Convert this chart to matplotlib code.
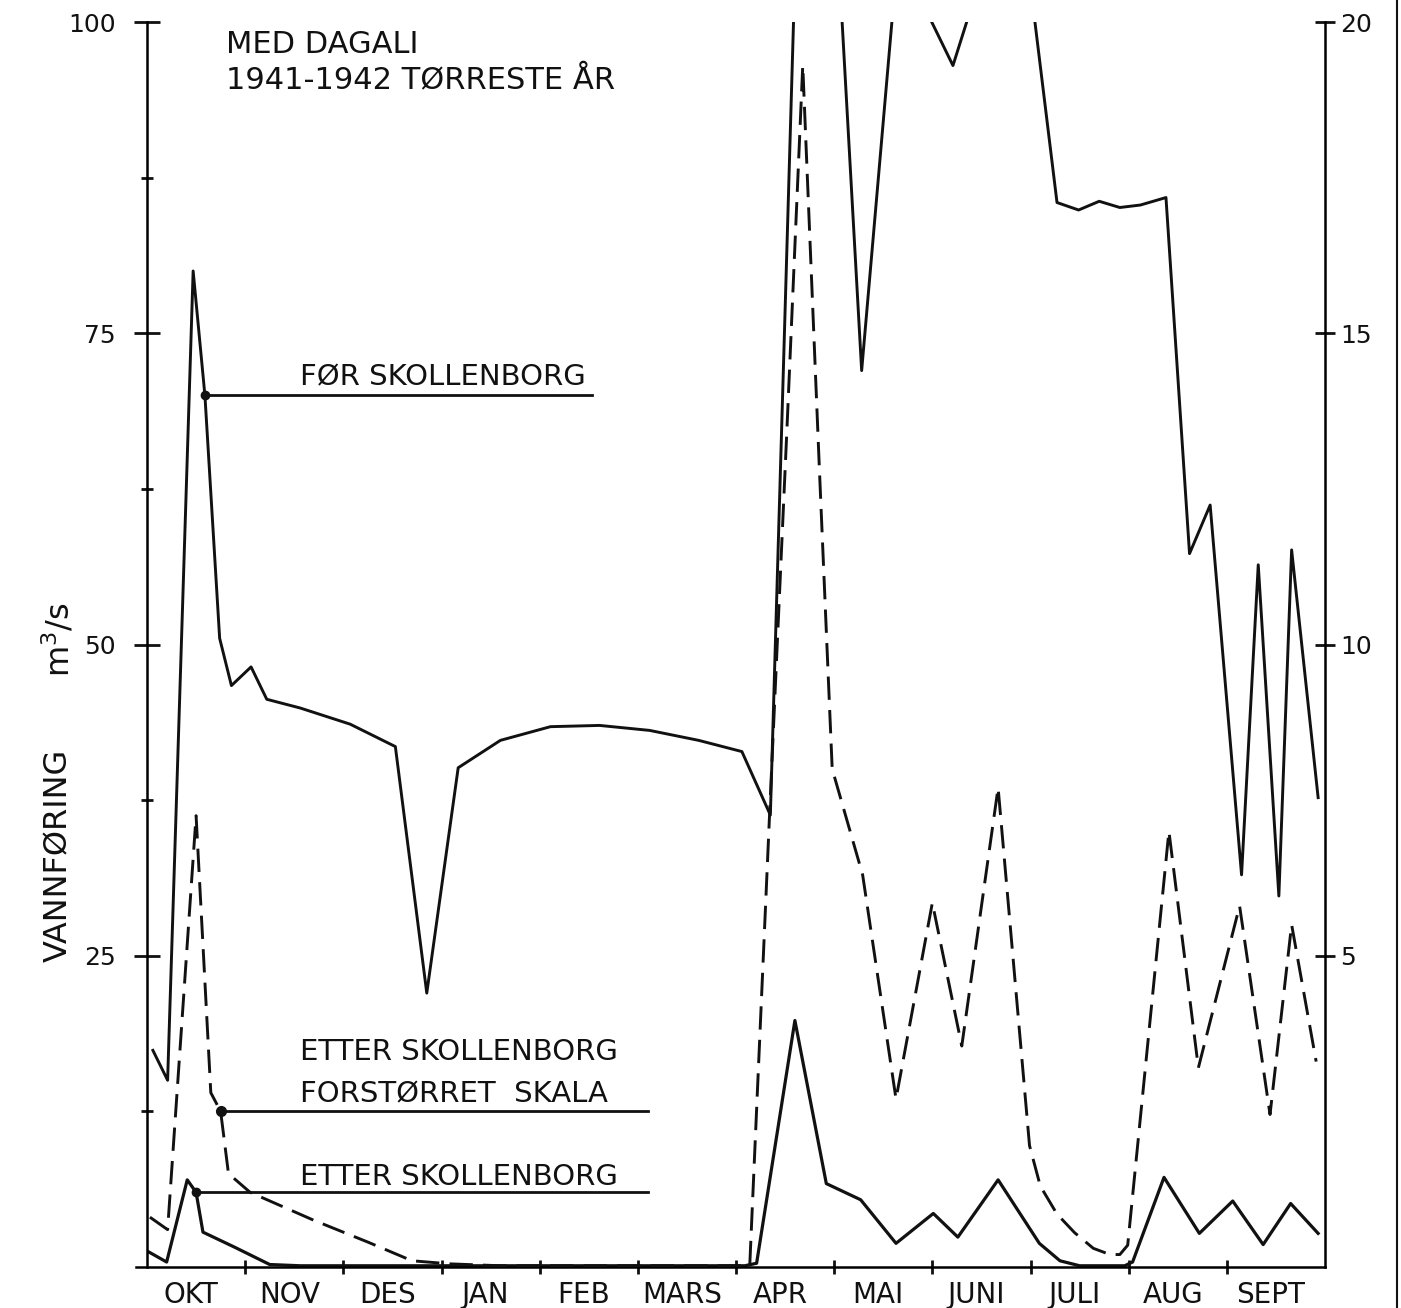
import numpy as np
import matplotlib.pyplot as plt
from matplotlib.lines import Line2D

plt.rcParams['font.family'] = ['DejaVu Sans']

maaneder = ['OKT', 'NOV', 'DES', 'JAN', 'FEB', 'MARS', 'APR', 'MAI', 'JUNI', 'JULI', 'AUG', 'SEPT']

# x = maaneder etter 1. oktober 1941
# FØR SKOLLENBORG, venstre skala (m3/s)
for_x = [0.06, 0.21, 0.47, 0.59, 0.74, 0.86, 1.06, 1.22, 1.56, 2.07, 2.53, 2.85, 3.17,
         3.60, 4.11, 4.61, 5.12, 5.62, 6.06, 6.35, 6.66, 7.01, 7.28, 7.72, 7.87, 8.21,
         8.43, 8.69, 8.89, 9.27, 9.49, 9.70, 9.91, 10.12, 10.38, 10.62, 10.83, 11.15,
         11.32, 11.53, 11.66, 11.93]
for_y = [17.4, 15.0, 80.0, 70.0, 50.5, 46.7, 48.2, 45.6, 44.9, 43.6, 41.8, 22.0, 40.1,
         42.3, 43.4, 43.5, 43.1, 42.3, 41.4, 36.3, 120.0, 110.0, 72.0, 112.0, 102.0, 96.5,
         102.0, 115.0, 110.0, 85.5, 84.9, 85.6, 85.1, 85.3, 85.9, 57.3, 61.2, 31.5,
         56.4, 29.8, 57.6, 37.7]

# ETTER SKOLLENBORG, venstre skala
etter_x = [0.02, 0.20, 0.41, 0.50, 0.57, 0.89, 1.25, 1.56, 2.58, 3.60, 4.61, 5.63, 6.09,
           6.21, 6.60, 6.92, 7.27, 7.63, 8.01, 8.26, 8.67, 9.09, 9.30, 9.50, 9.96, 10.04,
           10.36, 10.72, 11.06, 11.37, 11.65, 11.93]
etter_y = [1.2, 0.4, 7.0, 6.0, 2.8, 1.6, 0.2, 0.1, 0.1, 0.1, 0.1, 0.1, 0.1,
           0.3, 19.8, 6.7, 5.4, 1.9, 4.3, 2.4, 7.0, 1.9, 0.5, 0.1, 0.1, 0.4,
           7.2, 2.7, 5.3, 1.8, 5.1, 2.7]

# ETTER SKOLLENBORG, forstørret skala (høyre akse 0-20)
forst_x = [0.03, 0.21, 0.50, 0.65, 0.75, 0.83, 1.05, 1.70, 2.25, 2.70, 3.09, 3.60, 4.61,
           5.63, 6.14, 6.34, 6.52, 6.68, 6.85, 6.98, 7.29, 7.63, 8.00, 8.30, 8.67, 8.99,
           9.10, 9.27, 9.45, 9.64, 9.81, 9.91, 9.99, 10.41, 10.71, 11.13, 11.44, 11.66, 11.91]
forst_y = [0.8, 0.6, 7.25, 2.8, 2.5, 1.5, 1.2, 0.75, 0.4, 0.1, 0.05, 0.02, 0.02,
           0.02, 0.02, 7.2, 13.5, 19.3, 12.8, 8.0, 6.3, 2.7, 5.85, 3.55, 7.7, 1.95,
           1.3, 0.85, 0.55, 0.3, 0.2, 0.2, 0.35, 7.0, 3.2, 5.8, 2.45, 5.5, 3.3]

svart = '#111111'

fig = plt.figure(figsize=(14.01, 13.08), dpi=100)
ax = fig.add_axes([147/1401, 41/1308, 1178/1401, 1245/1308])
ax2 = ax.twinx()

ax.set_xlim(0, 12)
ax.set_ylim(0, 100)
ax2.set_ylim(0, 20)

ax.plot(for_x, for_y, color=svart, lw=2.1)
ax.plot(etter_x, etter_y, color=svart, lw=2.3)
ax2.plot(forst_x, forst_y, color=svart, lw=2.1, linestyle=(0, (8, 3.5)))

# merkelapper med strek og prikk
ax.plot([for_x[3], 4.53], [for_y[3], for_y[3]], color=svart, lw=2)
ax.plot(for_x[3], for_y[3], 'o', color=svart, ms=6)
ax.text(1.56, 70.8, 'FØR SKOLLENBORG', fontsize=21, va='baseline', color=svart)

ax.plot([forst_x[4], 5.10], [forst_y[4] * 5, forst_y[4] * 5], color=svart, lw=2)
ax.plot(forst_x[4], forst_y[4] * 5, 'o', color=svart, ms=7)
ax.text(1.56, 16.6, 'ETTER SKOLLENBORG', fontsize=21, va='baseline', color=svart)
ax.text(1.56, 13.2, 'FORSTØRRET  SKALA', fontsize=21, va='baseline', color=svart)

ax.plot([etter_x[3], 5.10], [etter_y[3], etter_y[3]], color=svart, lw=2)
ax.plot(etter_x[3], etter_y[3], 'o', color=svart, ms=6)
ax.text(1.56, 6.6, 'ETTER SKOLLENBORG', fontsize=21, va='baseline', color=svart)

ax.text(0.80, 97.5, 'MED DAGALI', fontsize=22, va='baseline', color=svart)
ax.text(0.80, 94.7, '1941-1942 TØRRESTE ÅR', fontsize=22, va='baseline', color=svart)

# akser
for s in ['top', 'right']:
    ax.spines[s].set_visible(False)
for s in ['top', 'left', 'bottom']:
    ax2.spines[s].set_visible(False)
for s in ['left', 'bottom']:
    ax.spines[s].set_linewidth(1.8)
ax.spines['bottom'].set_bounds(-0.11, 12)
ax2.spines['right'].set_linewidth(1.8)

ax.set_yticks([25, 50, 75, 100])
ax.set_yticks(np.arange(12.5, 100, 25), minor=True)
ax.tick_params(axis='y', which='major', direction='inout', length=19, width=2,
               labelsize=18, pad=13, colors=svart)
ax.tick_params(axis='y', which='minor', direction='inout', length=9, width=2, colors=svart)

ax.set_xticks(np.arange(1, 12))
ax.set_xticks(np.arange(12) + 0.45, minor=True)
ax.set_xticklabels(maaneder, minor=True)
ax.tick_params(axis='x', which='major', direction='inout', length=10, width=2,
               labelbottom=False, colors=svart)
ax.tick_params(axis='x', which='minor', length=0, labelsize=20, pad=10, colors=svart)

ax2.set_yticks([5, 10, 15, 20])
ax2.tick_params(axis='y', direction='inout', length=14, width=2, labelsize=18, pad=4,
                colors=svart)

fig.text(59/1401, 1 - 855/1308, 'VANNFØRING', rotation=90, fontsize=23,
         ha='center', va='center', color=svart)
fig.text(59/1401, 1 - 640/1308, 'm$^3$/s', rotation=90, fontsize=23,
         ha='center', va='center', color=svart)

# sidekant fra skanningen
fig.add_artist(Line2D([1397/1401, 1397/1401], [0, 1], transform=fig.transFigure,
                      color=svart, lw=1.5))

fig.savefig('out.png', dpi=100)
